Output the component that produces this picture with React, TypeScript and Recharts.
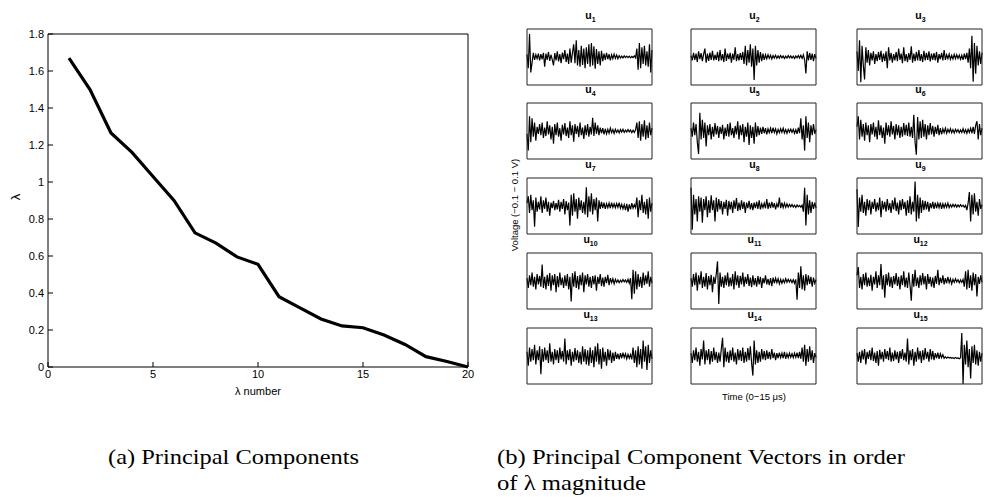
import { LineChart, Line, XAxis, YAxis } from "recharts";

// left: eigenvalues by index
const lambdaNumber = [1, 2, 3, 4, 5, 6, 7, 8, 9, 10, 11, 12, 13, 14, 15, 16, 17, 18, 19, 20];
const lambdaValue = [
  1.67, 1.5, 1.265, 1.16, 1.03, 0.9, 0.725, 0.67, 0.595, 0.555,
  0.38, 0.32, 0.26, 0.222, 0.212, 0.173, 0.122, 0.056, 0.03, 0.0,
];
const xTicks = [0, 5, 10, 15, 20];
const yTicks = [0, 0.2, 0.4, 0.6, 0.8, 1, 1.2, 1.4, 1.6, 1.8];

// right: principal component vectors, mV (-100..100)
const u1 = [
  10, -40, 82, -55, -20, 15, -10, 8, -6, 12,
  -12, 10, -8, 15, -35, 12, -10, 18, -14, 8,
  -9, -30, 14, -12, 20, -16, 10, -22, 16, -8,
  25, -18, 12, -25, 30, -20, 15, 45, -22, 60,
  -30, 25, -35, 40, -28, 30, -40, 35, -25, 45,
  -35, 50, -30, 38, -42, 28, -25, 20, -30, 22,
  -15, 12, -10, 15, -8, 10, -12, 8, -6, 10,
  -5, 7, -6, 5, -4, 3, -3, 4, -2, 3,
  -2, 3, -3, 2, -2, 4, -3, 30, -45, 50,
  -40, 35, -25, 40, -30, 20, -35, 45, -55, 25,
];
const u2 = [
  5, -12, 15, -10, 12, -18, 20, -8, 14, -15,
  10, 30, -20, 12, -14, 16, -10, 22, -12, 8,
  -10, 18, -15, 25, -12, 10, -18, 30, -14, 12,
  -8, 15, -20, 12, -10, 35, -15, 10, -12, 14,
  -10, 18, -25, 40, -30, 25, -20, 45, -35, 30,
  -82, 40, -30, 25, -20, 18, -15, 12, -10, 8,
  -6, 8, -5, 6, -7, 5, -4, 6, -5, 4,
  -4, 5, -3, 4, -5, 3, -4, 5, -3, 4,
  -4, 3, -5, 4, -3, 5, -4, 6, -5, 8,
  -10, -59, 20, -12, 15, -10, 12, -15, 10, -5,
];
const u3 = [
  20, -50, 60, -90, 40, -30, -80, 35, -20, 25,
  -30, 15, -12, 20, -25, 10, -15, 18, -10, 22,
  -18, 12, -15, 20, -40, 35, -12, 15, -20, 10,
  -12, 18, -15, 30, -10, 12, -22, 35, -15, 10,
  -18, 14, -10, 38, -20, 12, -15, 18, -12, 25,
  -14, 10, -18, 22, -12, 15, -10, 20, -16, 12,
  -10, 14, -12, 18, -20, 10, -8, 15, -12, 25,
  -10, 8, -6, 10, -8, 6, -7, 9, -6, 8,
  -5, 7, -8, 6, -10, 12, -8, 15, -20, 30,
  -40, 76, -88, 50, -60, 40, -30, 20, -25, 15,
];
const u4 = [
  -10, -70, 53, -40, 45, -20, 30, -35, 15, -10,
  25, -15, 30, -25, 12, -18, 35, -12, 20, -30,
  15, -45, 25, -15, 30, -20, 10, -35, 22, -12,
  28, -18, 12, -25, 35, -15, 20, -38, 25, -10,
  18, -22, 30, -15, 12, -28, 20, -15, 25, -20,
  15, -12, 47, -18, 30, -10, 20, -15, 12, -8,
  10, -12, 8, -10, 6, -8, 10, -6, 5, -9,
  6, -5, 4, -7, 5, -4, 6, -5, 3, -4,
  5, -3, 4, -6, 3, -5, 4, 30, -25, 35,
  -35, 25, -20, 38, -30, 20, -25, 30, -15, 10,
];
const u5 = [
  10, -20, 30, -15, 25, -40, -82, 65, -30, 40,
  -25, 30, -55, 20, -15, 25, -30, 15, -20, 28,
  -12, 18, -25, 15, -10, 22, -30, 12, -18, 25,
  -20, 30, -15, 10, -25, 18, -12, 35, -30, 20,
  -15, 25, -40, 15, -20, 30, -50, 20, -25, 15,
  -45, 30, -20, 18, -15, 12, -10, 15, -8, 10,
  -12, 8, -6, 10, -8, 12, -5, 8, -10, 6,
  -6, 8, -5, 10, -7, 5, -8, 6, -4, 7,
  -5, 6, -8, 5, -10, 12, -8, 45, -30, 20,
  -70, 53, -25, 30, -40, 20, -15, 25, -10, 5,
];
const u6 = [
  15, 53, -30, 40, -20, 25, -35, 30, -15, 20,
  -40, 25, -12, 30, -20, 15, -30, 38, -15, 20,
  -25, 12, -45, 30, -15, 20, -20, 35, -12, 18,
  -30, 25, -15, 20, -25, 15, -20, 28, -15, 22,
  -18, 30, -20, 15, -25, 58, -40, -85, 50, -30,
  35, -25, 40, -20, 25, -30, 20, -15, 28, -12,
  18, -20, 15, -10, 22, -15, 10, -12, 8, -6,
  10, -8, 6, -5, 8, -6, 5, -7, 6, -4,
  5, -6, 4, -5, 8, -6, 5, -8, 6, -5,
  10, -8, 15, -10, 20, 35, -30, 25, -15, 10,
];
const u7 = [
  10, 35, -25, 40, -15, 20, -74, 30, -20, 15,
  -12, 35, -25, 20, -10, 30, -20, 15, -35, 12,
  -8, 18, -15, 10, -12, 22, -20, 15, -10, 25,
  -30, 18, -15, 12, -70, 40, -35, 45, -20, 25,
  -45, 30, -15, 20, -25, 15, -30, 67, -40, 35,
  -20, 45, -30, 25, -15, 30, -55, 20, -10, 15,
  -8, 12, -10, 8, -6, 10, -8, 12, -5, 8,
  -6, 9, -5, 12, -8, 6, -10, 5, -15, 8,
  -20, 6, -12, 10, -8, 5, -6, 30, -40, 20,
  -15, 40, -25, 15, -30, 25, -45, 30, -20, 10,
];
const u8 = [
  65, -85, 40, -30, 25, -55, 35, -20, 30, -60,
  25, -15, 35, -40, 20, -25, 38, -15, 20, -55,
  30, -20, 25, -12, 18, -30, 15, -10, 22, -35,
  18, -12, 15, -25, 20, -10, 28, -18, 12, -15,
  20, -10, 15, -25, 12, -8, 18, -12, 10, -15,
  12, -8, 15, -10, 20, -12, 8, -6, 10, -8,
  25, -10, 12, -8, 15, -6, 10, -12, 8, -5,
  30, -8, 12, -6, 10, -5, 8, -4, 6, -3,
  5, -4, 3, -5, 4, -3, 2, -4, 3, -20,
  65, -70, 40, -30, 20, -25, 15, -10, 12, -8,
];
const u9 = [
  60, -75, 30, -20, 40, -25, 15, -35, 25, -15,
  20, -30, 15, -10, 25, -20, 12, -15, 30, -40,
  18, -12, 15, -20, 25, -15, 10, -25, 20, -12,
  30, -18, 12, -30, 20, -15, 25, -10, 15, -35,
  20, -25, 35, -30, 15, -20, 87, -55, 40, -45,
  30, -25, 20, -15, 18, -12, 15, -20, 10, -8,
  15, -10, 12, -8, 10, -6, 12, -10, 8, -6,
  8, -5, 10, -6, 5, -4, 6, -3, 5, -4,
  4, -3, 5, -2, 3, -4, 2, -15, 10, 50,
  -55, 40, -30, 45, -20, 15, -35, 25, -10, 5,
];
const u10 = [
  10, -25, 20, -15, 30, -20, 15, -30, 25, -12,
  18, -20, 59, -25, 15, -30, 22, -18, 28, -35,
  20, -15, 25, -40, 18, -22, 30, -15, 12, -25,
  20, -18, 25, -30, 15, -73, 28, -20, 35, -25,
  18, -30, 22, -15, 30, -40, 20, -12, 25, -20,
  15, -25, 18, -12, 20, -35, 15, -10, 25, -18,
  12, -20, 15, -8, 22, -15, 10, -6, 8, -10,
  6, -5, 4, -6, 3, -4, 5, -3, 4, -5,
  6, -8, 10, -65, 40, -45, 35, -30, 25, -20,
  15, -25, 30, -15, 20, -10, 35, -20, 15, -8,
];
const u11 = [
  10, -20, 25, -15, 30, -35, 20, -12, 35, -25,
  15, -20, 28, -30, 18, -15, 22, -40, 15, -10,
  25, 70, -82, 30, -20, 15, -25, 20, -15, 30,
  -20, 12, -18, 25, -30, 35, -15, 20, -25, 18,
  -12, 30, -20, 15, -10, 25, -18, 12, -22, 20,
  -15, 10, -20, 18, -12, 15, -25, 10, -8, 20,
  -12, 8, -15, 10, -18, 12, -8, 10, -6, 8,
  -10, 6, -8, 5, -6, 8, -5, 6, -4, 5,
  -6, 5, -8, 6, -67, 30, -25, 53, -30, 20,
  -35, 25, -15, 20, -10, 15, -20, 12, -8, 5,
];
const u12 = [
  20, 50, -25, 15, -30, 25, -15, 30, -20, 12,
  -18, 22, -35, 15, -12, 35, -25, 20, -15, 61,
  -30, 20, -60, 25, -15, 30, -20, 15, -25, 18,
  -12, 28, -18, 15, -30, 20, -15, 35, -22, 12,
  -25, 30, -15, -70, 25, -20, 40, -18, 12, -25,
  20, -15, 28, -12, 18, -30, 25, -10, 15, -20,
  12, -25, 18, -10, 40, -15, 12, -8, 20, -12,
  10, -8, 15, -6, 8, -10, 6, -5, 8, -4,
  5, -6, 4, -5, 6, -20, 35, -30, 40, -25,
  20, -35, 30, -15, 25, -55, 15, -10, 20, -5,
];
const u13 = [
  15, -35, 30, -20, 25, -15, 40, -30, 20, -15,
  35, -65, 25, -20, 30, -15, 20, -25, 45, -20,
  15, -30, 25, -15, 20, -25, 30, -12, 18, -20,
  62, -30, 20, -15, 25, -35, 15, -20, 28, -15,
  20, -25, 15, -30, 35, -20, 25, -30, 20, -35,
  30, -25, 20, -40, 35, -20, 45, -30, 25, -45,
  30, -20, 15, -35, 25, -15, 20, -25, 12, -18,
  15, -10, 8, -12, 10, -8, 12, -6, 8, -10,
  6, -8, 5, -12, 30, -25, 20, -40, 35, -30,
  25, -45, 55, -20, 35, -50, 40, -25, 20, -10,
];
const u14 = [
  10, -25, 20, -15, 30, -20, 15, -35, 25, -12,
  55, -30, 20, -15, 25, -30, 18, -20, 30, -15,
  15, -25, 12, -20, 25, 65, -40, 30, -20, 15,
  -25, 20, -15, 30, -20, 12, -30, 25, -15, 20,
  -18, 30, -25, 15, -20, 28, -15, 35, -25, -70,
  55, -30, 20, -25, 15, -20, 25, -12, 18, -15,
  20, -10, 15, -12, 25, -8, 12, -15, 10, -8,
  12, -6, 10, -8, 15, -10, 8, -6, 10, -5,
  8, -6, 10, -5, 12, -8, 15, -10, 30, -20,
  40, -35, 25, -20, 35, -15, 20, -25, 10, -5,
];
const u15 = [
  10, -20, 15, -25, 20, -12, 25, -30, 15, -10,
  20, -15, 30, -18, 12, -25, 18, -35, 22, -12,
  15, -20, 25, -10, 18, -15, 30, -20, 12, -18,
  20, -12, 15, -25, 18, -10, 25, -15, 12, -20,
  62, -30, 20, -15, 25, -35, 15, -20, 30, -12,
  18, -25, 20, -15, 28, -10, 15, -20, 25, -12,
  18, -15, 10, -8, 12, -10, 8, -6, 5, -8,
  -3, -8, -4, -7, -5, -8, -6, -9, -5, -8,
  -7, -10, -6, 82, -100, 40, -30, 55, -40, 25,
  -80, 35, -25, 40, -30, 20, -35, 15, -20, 10,
];

const vectors = [u1, u2, u3, u4, u5, u6, u7, u8, u9, u10, u11, u12, u13, u14, u15];

const pcData = lambdaNumber.map((n, i) => ({ n, v: lambdaValue[i] }));

const sans = "'Liberation Sans', Arial, sans-serif";
const serif = "'Liberation Serif', 'Times New Roman', serif";

const colLeft = [527, 691, 857];
const rowTop = [29, 103, 178, 253, 328];
const PW = 125;
const PH = 56;

function Panel({ values, left, top }: { values: number[]; left: number; top: number }) {
  const data = values.map((v, i) => ({ i, v }));
  const last = values.length - 1;
  const xt = [25, 50, 75];
  const common = {
    type: "number" as const,
    dataKey: "i",
    domain: [0, last],
    ticks: xt,
    tick: false,
    tickSize: -2,
    height: 1,
    axisLine: { stroke: "#222" },
    tickLine: { stroke: "#555" },
  };
  const ycommon = {
    type: "number" as const,
    domain: [-100, 100],
    ticks: [-50, 0, 50],
    tick: false,
    tickSize: -2,
    width: 1,
    axisLine: { stroke: "#222" },
    tickLine: { stroke: "#555" },
  };
  // chart is one px larger on each side so the box sits on the panel edges
  return (
    <div style={{ position: "absolute", left: left - 1, top: top - 1 }}>
      <LineChart width={PW + 2} height={PH + 2} data={data} margin={{ top: 0, right: 0, bottom: 0, left: 0 }}>
        <XAxis {...common} />
        <XAxis {...common} xAxisId="top" orientation="top" />
        <YAxis {...ycommon} />
        <YAxis {...ycommon} yAxisId="r" orientation="right" />
        <Line
          type="linear"
          dataKey="v"
          stroke="#000"
          strokeWidth={1.2}
          dot={false}
          isAnimationActive={false}
        />
      </LineChart>
    </div>
  );
}

export default function App() {
  return (
    <div style={{ position: "absolute", left: 0, top: 0, width: 984, height: 497, background: "#fff" }}>
      <div style={{ position: "absolute", left: 0, top: 0 }}>
        <LineChart width={480} height={400} data={pcData} margin={{ top: 33, right: 11, bottom: 0, left: 8 }}>
          <XAxis
            dataKey="n"
            type="number"
            domain={[0, 20]}
            ticks={xTicks}
            interval={0}
            height={33}
            tickSize={-5}
            tickMargin={8}
            axisLine={{ stroke: "#000" }}
            tickLine={{ stroke: "#000" }}
            tick={{ fill: "#000", fontSize: 11, fontFamily: sans }}
          />
          <XAxis
            xAxisId="top"
            orientation="top"
            dataKey="n"
            type="number"
            domain={[0, 20]}
            ticks={xTicks}
            height={1}
            tick={false}
            tickSize={-5}
            axisLine={{ stroke: "#000" }}
            tickLine={{ stroke: "#000" }}
          />
          <YAxis
            type="number"
            domain={[0, 1.8]}
            ticks={yTicks}
            interval={0}
            width={40}
            tickSize={-5}
            tickMargin={9}
            axisLine={{ stroke: "#000" }}
            tickLine={{ stroke: "#000" }}
            tick={{ fill: "#000", fontSize: 11, fontFamily: sans }}
          />
          <YAxis
            yAxisId="right"
            orientation="right"
            type="number"
            domain={[0, 1.8]}
            ticks={yTicks}
            width={1}
            tick={false}
            tickSize={-5}
            axisLine={{ stroke: "#000" }}
            tickLine={{ stroke: "#000" }}
          />
          <Line
            type="linear"
            dataKey="v"
            stroke="#000"
            strokeWidth={3.2}
            dot={false}
            isAnimationActive={false}
          />
        </LineChart>
      </div>

      {vectors.map((vals, k) => (
        <Panel key={k} values={vals} left={colLeft[k % 3]} top={rowTop[Math.floor(k / 3)]} />
      ))}

      <svg width={984} height={497} style={{ position: "absolute", left: 0, top: 0, pointerEvents: "none" }}>
        <text x={258} y={395} textAnchor="middle" fontFamily={sans} fontSize={11} fill="#000">
          λ number
        </text>
        <text x={0} y={0} transform="translate(20,197) rotate(-90)" textAnchor="middle" fontFamily={sans} fontSize={13} fill="#000">
          λ
        </text>

        {vectors.map((_, k) => (
          <text
            key={k}
            x={colLeft[k % 3] + PW / 2 + 1}
            y={rowTop[Math.floor(k / 3)] - 10}
            textAnchor="middle"
            fontFamily={sans}
            fontSize={10.5}
            fontWeight={600}
            fill="#000"
          >
            u<tspan fontSize={7} dy={3}>{k + 1}</tspan>
          </text>
        ))}

        <text x={0} y={0} transform="translate(518,205) rotate(-90)" textAnchor="middle" fontFamily={sans} fontSize={9.5} fill="#000">
          Voltage (−0.1 − 0.1 V)
        </text>
        <text x={754} y={400} textAnchor="middle" fontFamily={sans} fontSize={9.5} fill="#000">
          Time (0−15 μs)
        </text>

        <text x={108} y={464} fontFamily={serif} fontSize={21} fill="#000" textLength={251} lengthAdjust="spacingAndGlyphs">
          (a) Principal Components
        </text>
        <text x={497} y={464} fontFamily={serif} fontSize={21} fill="#000" textLength={408} lengthAdjust="spacingAndGlyphs">
          (b) Principal Component Vectors in order
        </text>
        <text x={497} y={490} fontFamily={serif} fontSize={21} fill="#000" textLength={149} lengthAdjust="spacingAndGlyphs">
          of λ magnitude
        </text>
      </svg>
    </div>
  );
}
